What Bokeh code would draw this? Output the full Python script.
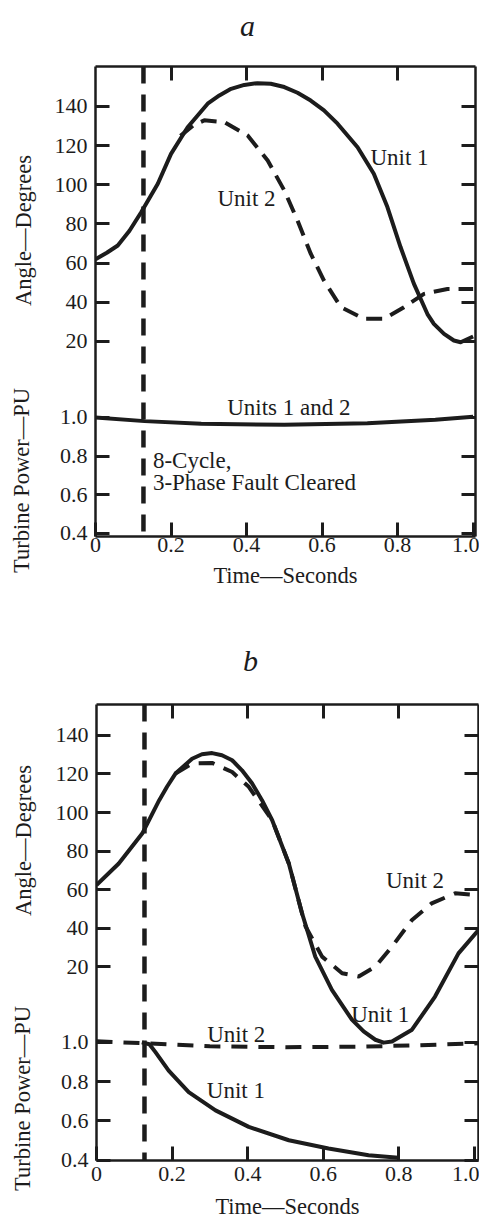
import math
from bokeh.plotting import figure
from bokeh.models import (Range1d, LinearAxis, FixedTicker, Span, Label,
                          CustomLabelingPolicy)
from bokeh.layouts import column, row
from bokeh.core.properties import value
from bokeh.embed import file_html
from bokeh.resources import INLINE

# ---------------- data ----------------
angle_ticks = [20, 40, 60, 80, 100, 120, 140]
angle_tick_labels = ["20", "40", "60", "80", "100", "120", "140"]
power_ticks = [0.4, 0.6, 0.8, 1.0]
power_tick_labels = ["0.4", "0.6", "0.8", "1.0"]
time_ticks = [0.0, 0.2, 0.4, 0.6, 0.8, 1.0]
time_tick_labels = ["0", "0.2", "0.4", "0.6", "0.8", "1.0"]
fault_time = 0.127

# panel a
a_unit1_t = [0.0, 0.03, 0.059, 0.09, 0.121, 0.165, 0.200, 0.244, 0.297, 0.328, 0.359, 0.394,
             0.429, 0.464, 0.500, 0.535, 0.570, 0.605, 0.641, 0.694, 0.737, 0.773, 0.808,
             0.843, 0.879, 0.896, 0.923, 0.949, 0.967, 1.0]
a_unit1_angle = [62, 65.3, 69, 76.5, 86, 100.5, 115.8, 129.4, 141.4, 145.6, 149, 151,
                 151.9, 151.6, 149.9, 147, 143, 138, 131.2, 119.2, 105.6, 88.6, 68.1,
                 49.5, 34, 29, 23.9, 20.5, 19.6, 22.5]
a_unit2_t = [0.225, 0.26, 0.288, 0.341, 0.403, 0.456, 0.50, 0.535, 0.570, 0.605, 0.650,
             0.711, 0.764, 0.817, 0.870, 0.932, 1.0]
a_unit2_angle = [125, 130.5, 132.9, 132, 125.2, 112.4, 97.1, 81.8, 64.8, 51.1, 37.5,
                 31.6, 31.6, 37.5, 44.3, 46.8, 46.8]
a_power_t = [0.0, 0.13, 0.28, 0.5, 0.72, 0.9, 1.0]
a_power = [1.0, 0.981, 0.967, 0.962, 0.97, 0.988, 1.004]

# panel b
b_unit1_t = [0.0, 0.059, 0.121, 0.166, 0.187, 0.209, 0.253, 0.279, 0.306, 0.332, 0.359, 0.385,
             0.412, 0.438, 0.465, 0.509, 0.544, 0.579, 0.623, 0.676, 0.707, 0.738, 0.76,
             0.782, 0.835, 0.896, 0.958, 1.011]
b_unit1_angle = [62.4, 73.6, 89.1, 106.4, 113.5, 120.2, 127.9, 130.2, 130.8, 129.7, 127.1,
                 121.9, 115, 106.4, 96, 73.6, 47.8, 25.3, 8.1, -7.4, -13.5, -17.8, -19.3,
                 -18.7, -12.6, 4.6, 27, 39.1]
b_unit2_t = [0.209, 0.253, 0.306, 0.359, 0.403, 0.465, 0.509, 0.553, 0.597, 0.650, 0.694,
             0.738, 0.782, 0.835, 0.887, 0.949, 1.011]
b_unit2_angle = [120.2, 125.4, 125.7, 121, 113.3, 96, 73.6, 41, 25.3, 16.7, 15,
                 20.1, 30.5, 44.3, 52.9, 58.1, 57.2]
b_unit1_power_t = [0.12, 0.14, 0.156, 0.191, 0.244, 0.315, 0.403, 0.509, 0.614, 0.720, 0.799]
b_unit1_power = [1.0, 0.99, 0.95, 0.856, 0.747, 0.654, 0.57, 0.502, 0.46, 0.426, 0.413]
b_unit2_power_t = [0.0, 0.13, 0.3, 0.5, 0.7, 0.85, 1.011]
b_unit2_power = [1.005, 0.995, 0.98, 0.975, 0.978, 0.985, 0.995]

INK = "#1c1c1c"
FONT = "Liberation Serif"
TICK_FS = "22px"
AXIS_FS = "22.5px"
NOTE_FS = "23px"
PAGE_W = 479
SIDE_W = 48


def bare_figure(width, height):
    f = figure(width=width, height=height, x_range=Range1d(0, width),
               y_range=Range1d(0, height), output_backend="svg", toolbar_location=None,
               x_axis_location=None, y_axis_location=None,
               min_border_top=0, min_border_bottom=0, min_border_left=0, min_border_right=0)
    f.outline_line_color = None
    f.xgrid.visible = False
    f.ygrid.visible = False
    return f


def header(text, height, cx, cy):
    h = bare_figure(PAGE_W, height)
    h.text(x=[cx], y=[cy], text=[text], text_font=value(FONT), text_font_size="30px",
           text_font_style="italic", text_color=INK, text_align="center",
           text_baseline="middle")
    return h


def side(height, angle_label_pos, power_label_pos):
    s = bare_figure(SIDE_W, height)
    s.text(x=[angle_label_pos[0], power_label_pos[0]],
           y=[angle_label_pos[1], power_label_pos[1]],
           text=["Angle\u2014Degrees", "Turbine Power\u2014PU"],
           angle=math.pi / 2, text_font=value(FONT), text_font_size=AXIS_FS, text_color=INK,
           text_align="center", text_baseline="middle")
    return s


def make_panel(height, border_top, border_bottom, border_left, border_right,
               x_end, angle_range, power_range, xlab_standoff, xtitle_standoff):
    a0, a1 = angle_range
    p0, p1 = power_range
    p = figure(width=PAGE_W - SIDE_W, height=height, x_range=Range1d(0.0, x_end),
               y_range=Range1d(a0, a1), output_backend="svg", toolbar_location=None,
               x_axis_location=None, y_axis_location=None,
               min_border_top=border_top, min_border_bottom=border_bottom,
               min_border_left=border_left, min_border_right=border_right)
    p.extra_y_ranges = {"pw": Range1d(p0, p1)}
    p.outline_line_color = None
    p.xgrid.visible = False
    p.ygrid.visible = False

    def to_angle(v):
        return a0 + (v - p0) * (a1 - a0) / (p1 - p0)

    y_ticks = list(angle_ticks) + [to_angle(v) for v in power_ticks]
    y_labels = dict(zip(angle_ticks, angle_tick_labels))
    y_labels.update({to_angle(v): s for v, s in zip(power_ticks, power_tick_labels)})

    def style(ax, ticks, overrides=None, labels=True):
        ax.ticker = FixedTicker(ticks=ticks, minor_ticks=[])
        ax.major_tick_in = 14
        ax.major_tick_out = 0
        ax.minor_tick_in = 0
        ax.minor_tick_out = 0
        ax.axis_line_width = 2.5
        ax.axis_line_color = INK
        ax.major_tick_line_width = 3
        ax.major_tick_line_color = INK
        if labels:
            ax.major_label_overrides = overrides
            ax.major_label_text_font = FONT
            ax.major_label_text_font_size = TICK_FS
            ax.major_label_text_color = INK
        else:
            ax.major_label_policy = CustomLabelingPolicy(
                code="for (const i of indices) indices.unset(i)")
            ax.major_label_text_font_size = "0px"
            ax.major_label_standoff = 0
            ax.axis_label_standoff = 0
        return ax

    left = style(LinearAxis(), y_ticks, y_labels)
    left.major_label_standoff = 8
    p.add_layout(left, "left")
    p.add_layout(style(LinearAxis(), y_ticks, labels=False), "right")
    p.add_layout(style(LinearAxis(), time_ticks[1:-1], labels=False), "above")
    bottom = style(LinearAxis(), time_ticks, dict(zip(time_ticks, time_tick_labels)))
    bottom.major_label_standoff = xlab_standoff
    bottom.axis_label = "Time\u2014Seconds"
    bottom.axis_label_text_font = FONT
    bottom.axis_label_text_font_size = AXIS_FS
    bottom.axis_label_text_font_style = "normal"
    bottom.axis_label_text_color = INK
    bottom.axis_label_standoff = xtitle_standoff
    p.add_layout(bottom, "below")

    p.add_layout(Span(location=fault_time, dimension="height", line_color=INK,
                      line_width=4.5, line_dash="17 11"))
    return p


def add_label(p, text, x, y, pw=False, align="center"):
    kw = dict(y_range_name="pw") if pw else {}
    p.add_layout(Label(x=x, y=y, text=text, text_font=FONT, text_font_size=NOTE_FS,
                       text_color=INK, text_align=align, text_baseline="middle", **kw))


# ---------------- panel a ----------------
ha = header("a", 48, 247, 23)
sa = side(552, (23, 370), (21, 120))
pa = make_panel(552, 18, 64, 47, 4, 1.0063, (-79.6, 160.4), (0.384, 2.816), 1, 8)
pa.line(a_unit1_t, a_unit1_angle, line_color=INK, line_width=4, line_join="round")
pa.line(a_unit2_t, a_unit2_angle, line_color=INK, line_width=4, line_dash="16 9")
pa.line(a_power_t, a_power, line_color=INK, line_width=4, y_range_name="pw")
add_label(pa, "Unit 1", 0.805, 114)
add_label(pa, "Unit 2", 0.40, 93)
add_label(pa, "Units 1 and 2", 0.512, 1.052, pw=True)
add_label(pa, "8-Cycle,", 0.152, 0.778, pw=True, align="left")
add_label(pa, "3-Phase Fault Cleared", 0.152, 0.665, pw=True, align="left")

# ---------------- panel b ----------------
hb = header("b", 85, 250, 25)
sb = side(536, (23, 381), (22, 123))
pb = make_panel(536, 19, 60, 48, 1, 1.011, (-80.4, 156.0), (0.399, 2.718), 6, 10)
pb.line(b_unit1_t, b_unit1_angle, line_color=INK, line_width=4, line_join="round")
pb.line(b_unit2_t, b_unit2_angle, line_color=INK, line_width=4, line_dash="16 10")
pb.line(b_unit2_power_t, b_unit2_power, line_color=INK, line_width=4, line_dash="16 11",
        y_range_name="pw")
pb.line(b_unit1_power_t, b_unit1_power, line_color=INK, line_width=4, line_join="round",
        y_range_name="pw")
add_label(pb, "Unit 2", 0.843, 65)
add_label(pb, "Unit 1", 0.751, -4.9)
add_label(pb, "Unit 2", 0.37, 1.042, pw=True)
add_label(pb, "Unit 1", 0.369, 0.753, pw=True)

layout = column(ha, row(sa, column(pa, spacing=0), spacing=0),
                hb, row(sb, column(pb, spacing=0), spacing=0), spacing=0)
open("out.html", "w").write(file_html(layout, INLINE))
